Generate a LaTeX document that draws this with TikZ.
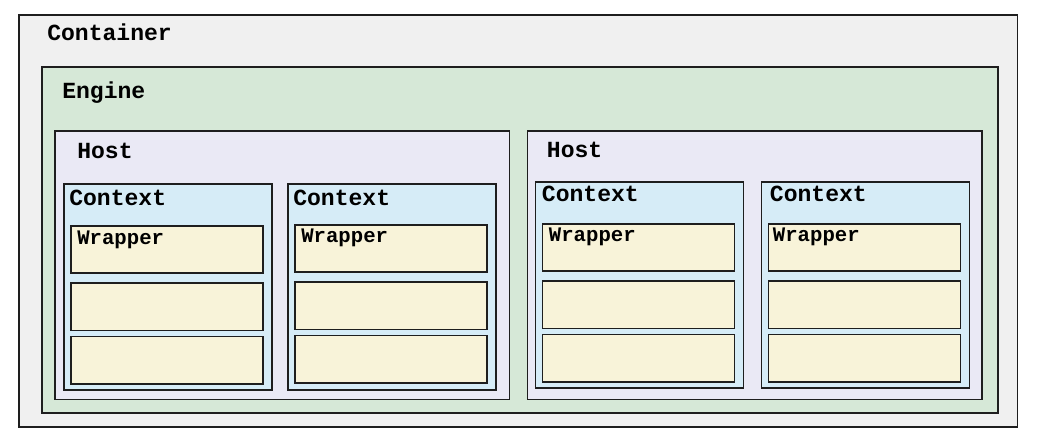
\documentclass[tikz,border=0pt]{standalone}
\usepackage{fontspec}
\setmonofont{Liberation Mono}
\usepackage{xcolor}
\usepackage{tikz}
\usetikzlibrary{positioning}
\definecolor{outerfill}{HTML}{F0F0F0}
\definecolor{enginefill}{HTML}{D6E8D7}
\definecolor{hostfill}{HTML}{EAE9F5}
\definecolor{ctxfill}{HTML}{D6ECF7}
\definecolor{wrapfill}{HTML}{F8F3D9}
\definecolor{edge}{HTML}{1E1E1E}

\begin{document}
\begin{tikzpicture}[
    x=0.75pt,
    y=-0.75pt,
    box/.style={
        rectangle,
        draw=edge,
        line width=1.3pt,
        inner sep=0pt,
        anchor=north west
    },
    containerbox/.style={box, fill=outerfill, minimum width=749pt, minimum height=309pt},
    enginebox/.style={box, fill=enginefill, minimum width=717pt, minimum height=259.5pt},
    hostbox/.style={box, fill=hostfill, minimum width=341pt, minimum height=201.5pt},
    ctxbox/.style={box, fill=ctxfill, minimum width=156pt, minimum height=154.5pt},
    wrapbox/.style={box, fill=wrapfill, minimum width=144pt, minimum height=35.5pt},
    lbl/.style={
        font=\ttfamily\bfseries\fontsize{17.3}{20}\selectfont,
        anchor=base west,
        inner sep=0pt
    },
    wlbl/.style={lbl, font=\ttfamily\bfseries\fontsize{15.5}{18}\selectfont}
]

\useasboundingbox[fill=white] (0,0) rectangle (1042,442);

\node[containerbox] (container) at (18,14) {};
\node[enginebox] (engine) at (41,66) {};

\node[hostbox] (hostA) at (54,130) {};
\node[hostbox, right=12.2pt of hostA] (hostB) {};

\node[ctxbox] (ctxA) at ([shift={(9,53)}]hostA.north west) {};
\node[ctxbox, right=10.7pt of ctxA] (ctxB) {};
\node[ctxbox] (ctxC) at ([shift={(8,51)}]hostB.north west) {};
\node[ctxbox, right=12.2pt of ctxC] (ctxD) {};

\node[wrapbox] (wA1) at ([shift={(7,42)}]ctxA.north west) {};
\node[wrapbox, below=6.2pt of wA1] (wA2) {};
\node[wrapbox, below=3.2pt of wA2] (wA3) {};
\node[wrapbox] (wB1) at ([shift={(7,41)}]ctxB.north west) {};
\node[wrapbox, below=6.2pt of wB1] (wB2) {};
\node[wrapbox, below=3.2pt of wB2] (wB3) {};
\node[wrapbox] (wC1) at ([shift={(7,42)}]ctxC.north west) {};
\node[wrapbox, below=6.2pt of wC1] (wC2) {};
\node[wrapbox, below=3.2pt of wC2] (wC3) {};
\node[wrapbox] (wD1) at ([shift={(7,42)}]ctxD.north west) {};
\node[wrapbox, below=6.2pt of wD1] (wD2) {};
\node[wrapbox, below=3.2pt of wD2] (wD3) {};

% labels
\node[lbl] (containerlbl) at ([shift={(29,27)}]container.north west) {Container};
\node[lbl] (enginelbl) at ([shift={(21,33)}]engine.north west) {Engine};
\node[lbl] (hostAlbl) at ([shift={(23,29)}]hostA.north west) {Host};
\node[lbl] (hostBlbl) at ([shift={(20,28)}]hostB.north west) {Host};
\node[lbl] (ctxAlbl) at ([shift={(6,22)}]ctxA.north west) {Context};
\node[lbl] (ctxBlbl) at ([shift={(6,22)}]ctxB.north west) {Context};
\node[lbl] (ctxClbl) at ([shift={(7,20)}]ctxC.north west) {Context};
\node[lbl] (ctxDlbl) at ([shift={(9,20)}]ctxD.north west) {Context};
\node[wlbl] (wAlbl) at ([shift={(7,19)}]wA1.north west) {Wrapper};
\node[wlbl] (wBlbl) at ([shift={(7,19)}]wB1.north west) {Wrapper};
\node[wlbl] (wClbl) at ([shift={(7,18)}]wC1.north west) {Wrapper};
\node[wlbl] (wDlbl) at ([shift={(5,18)}]wD1.north west) {Wrapper};

\end{tikzpicture}
\end{document}
